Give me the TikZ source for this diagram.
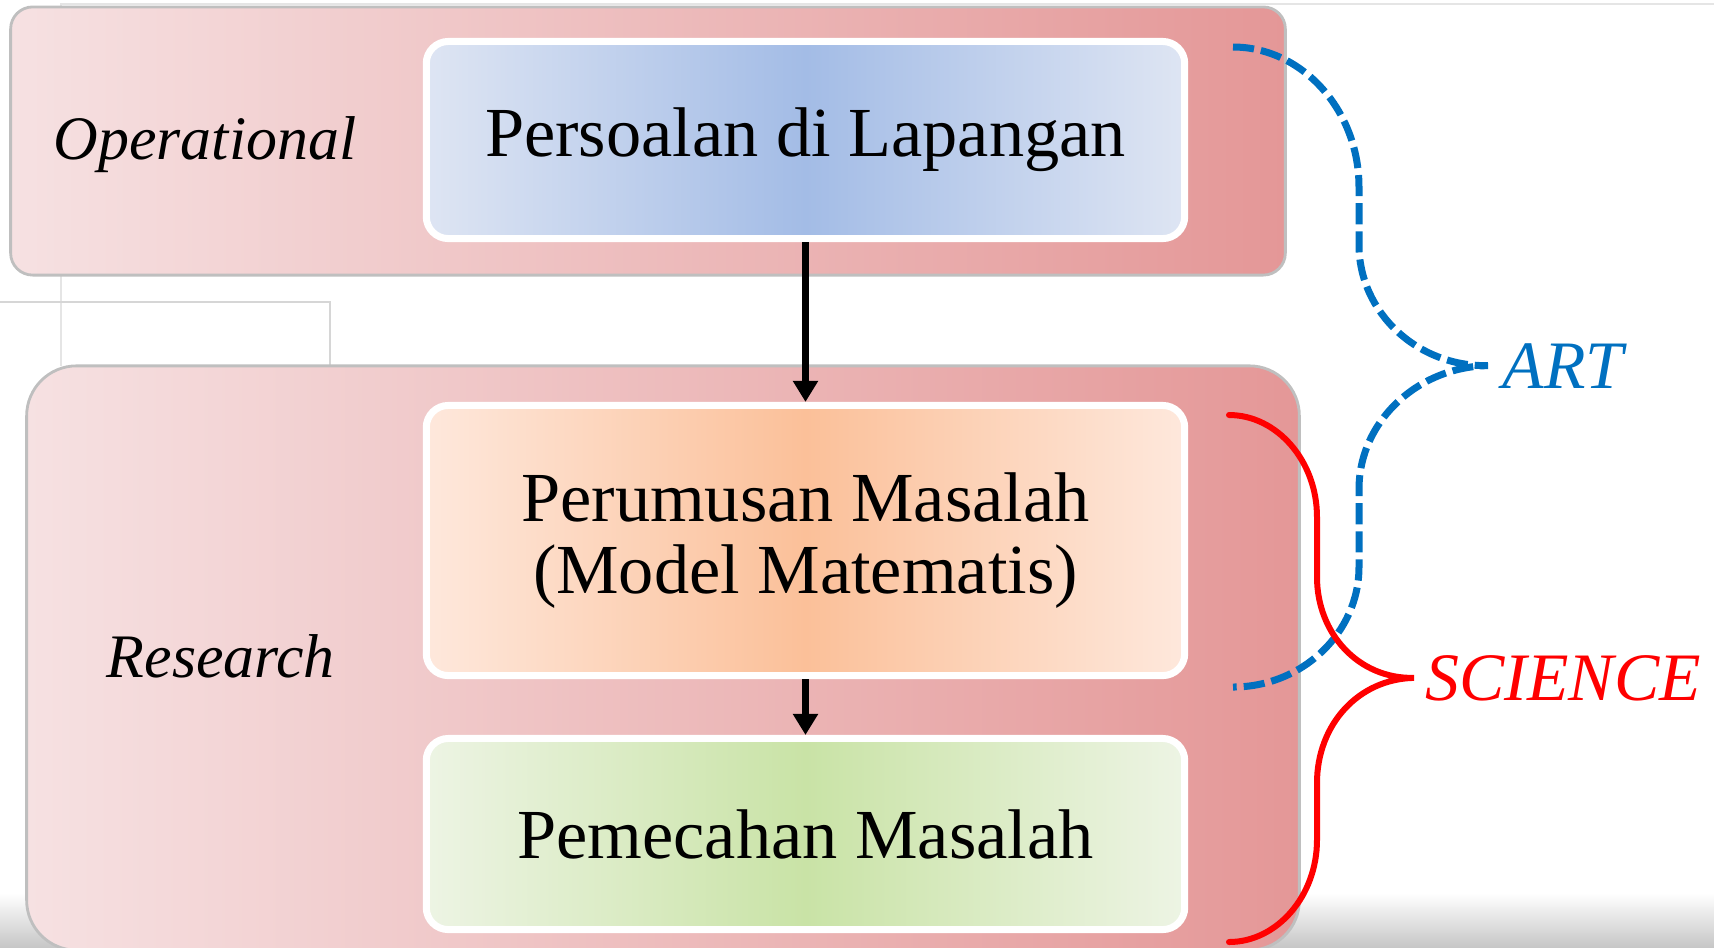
\documentclass[tikz,border=0pt]{standalone}
\usepackage{fontspec}
\setmainfont{Liberation Serif}
\usetikzlibrary{arrows.meta}

\definecolor{rosa}{RGB}{246,225,226}
\definecolor{rose}{RGB}{228,151,151}
\definecolor{biru}{RGB}{163,188,230}
\definecolor{birumuda}{RGB}{222,229,243}
\definecolor{jingga}{RGB}{251,192,153}
\definecolor{jinggamuda}{RGB}{254,232,220}
\definecolor{hijau}{RGB}{201,227,166}
\definecolor{hijaumuda}{RGB}{237,244,228}
\definecolor{artblue}{RGB}{0,112,192}

\begin{document}
\begin{tikzpicture}[x=0.01cm,y=-0.01cm,
		txt/.style={font=\fontsize{20}{20.7}\selectfont},
		lbl/.style={font=\itshape\fontsize{17.6}{20.7}\selectfont,anchor=base west,inner sep=0.05cm},
		brc/.style={font=\itshape\fontsize{19.3}{20.7}\selectfont,anchor=base west,inner sep=0.05cm}]
		\useasboundingbox (0,0) rectangle (1714,947);
		\shade[top color=white,bottom color=black!22] (0,893) rectangle (1714,947);
		\draw[black!10,line width=0.7pt] (61,366) -- (61,4) -- (1714,4);
		\draw[black!16,line width=0.7pt] (0,302) -- (330,302) -- (330,366);

		\begin{scope}[every node/.style={draw=black!25,line width=0.8pt,left color=rosa,right color=rose}]
			\node[rounded corners=0.22cm,minimum width=12.74cm,minimum height=2.68cm] (Op) at (648,141) {};
			\node[rounded corners=0.5cm,minimum width=12.72cm,minimum height=5.84cm] (Rs) at (663,658) {};
		\end{scope}

		\node[lbl] (op) at (48,159) {Operational};
		\node[lbl] (rs) at (101,677) {Research};

		\begin{scope}[every node/.style={txt,draw=white,line width=0.07cm,rounded corners=0.22cm,minimum width=7.58cm,align=center}]
			\node[left color=birumuda,right color=birumuda,middle color=biru,minimum height=1.97cm] (PL) at (805.5,140) {Persoalan di Lapangan};
			\node[left color=jinggamuda,right color=jinggamuda,middle color=jingga,minimum height=2.70cm] (PM) at (805.5,540.5) {Perumusan Masalah\\(Model Matematis)};
			\node[left color=hijaumuda,right color=hijaumuda,middle color=hijau,minimum height=1.91cm] (PS) at (805.5,834) {Pemecahan Masalah};
		\end{scope}

		\begin{scope}[every edge/.style={draw=black,line width=0.07cm}]
			\path [-{Triangle[width=0.24cm,length=0.21cm]}] (PL) edge (PM);
			\path [-{Triangle[width=0.24cm,length=0.21cm]}] (PM) edge (PS);
		\end{scope}

		\node[brc,text=artblue] (ART) at (1497,388) {ART};
		\node[brc,text=red] (SCI) at (1420,700) {SCIENCE};

		\coordinate (a1) at (1233,47);
		\coordinate (a2) at (1233,687);
		\coordinate (at) at ([xshift=-0.09cm]ART.west);
		\coordinate (s1) at (1229,415);
		\coordinate (s2) at (1229,942);
		\coordinate (st) at ([xshift=-0.06cm]SCI.west);

		\draw[artblue,line width=0.07cm,dash pattern=on 6pt off 2pt]
			(a1) .. controls (1302,47) and (1359,110) .. (1359,187) -- (1359,245)
			.. controls (1359,312) and (1417,367) .. (at)
			.. controls (1417,367) and (1359,422) .. (1359,489) -- (1359,567)
			.. controls (1359,633) and (1302,687) .. (a2);
		\draw[red,line width=0.06cm,line cap=round]
			(s1) .. controls (1277,415) and (1317,461) .. (1317,517) -- (1317,577)
			.. controls (1317,633) and (1358,679) .. (st)
			.. controls (1358,679) and (1317,725) .. (1317,783) -- (1317,840)
			.. controls (1317,896) and (1277,942) .. (s2);
\end{tikzpicture}
\end{document}
